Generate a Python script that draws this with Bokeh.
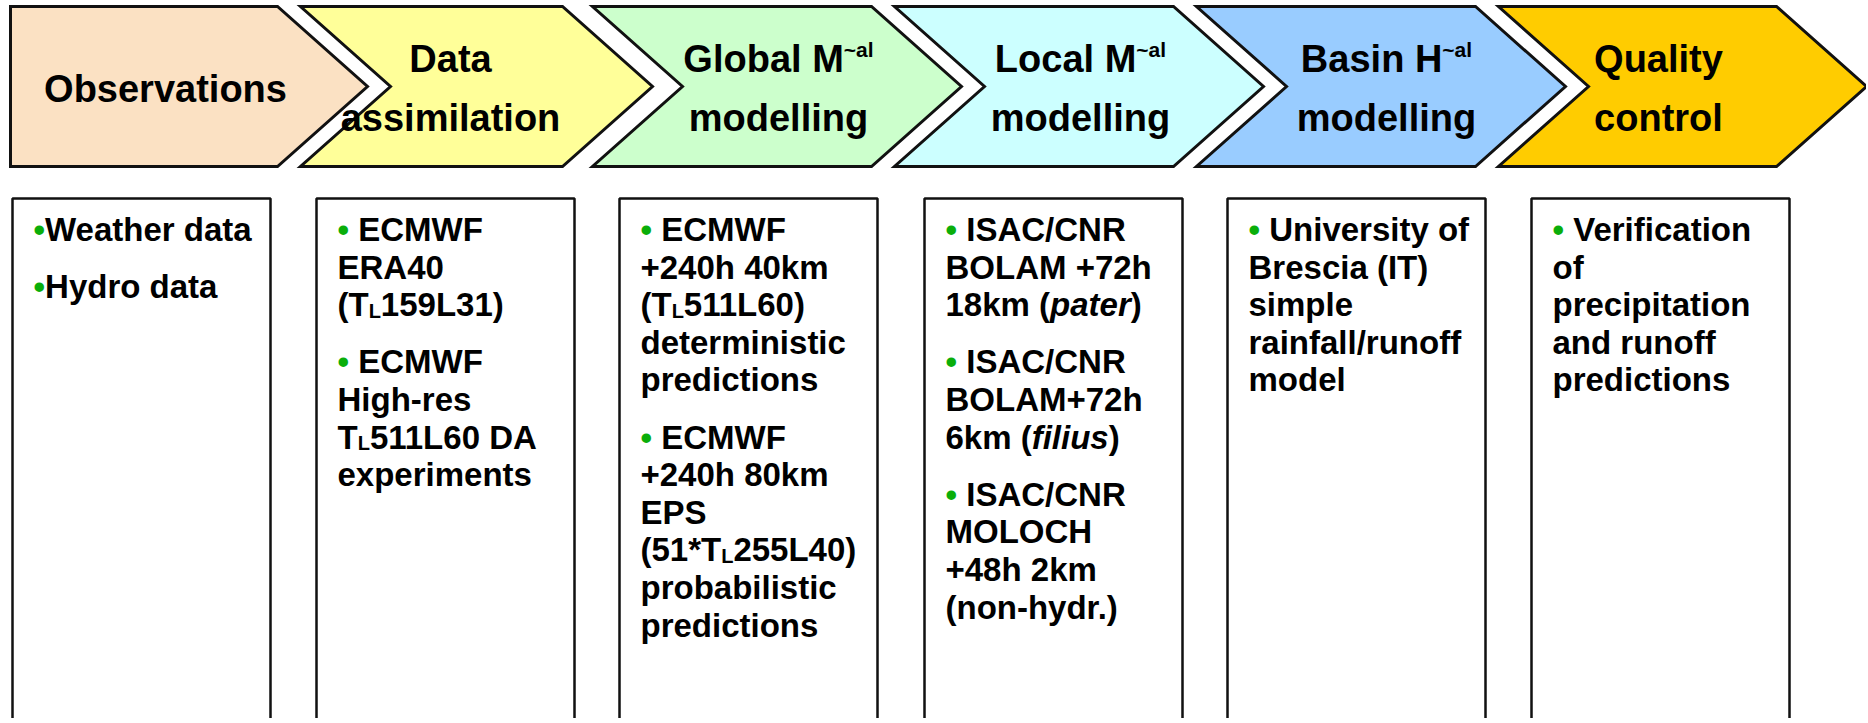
import re
from bokeh.plotting import figure
from bokeh.models import Range1d, ColumnDataSource
from bokeh.core.properties import value
from bokeh.embed import file_html
from bokeh.resources import INLINE

# ---------------- content (data) ----------------
stage_line1 = ["Observations", "Data", "Global M", "Local M", "Basin H", "Quality"]
stage_sup = ["", "", "~al", "~al", "~al", ""]
stage_line2 = ["", "assimilation", "modelling", "modelling", "modelling", "control"]
stage_colors = ["#FBE1C3", "#FFFF99", "#CCFFCC", "#CCFFFF", "#99CCFF", "#FFCC00"]

box_obs = [["•Weather data"], ["•Hydro data"]]
box_da = [["• ECMWF", "ERA40", "(T<sub>L</sub>159L31)"],
          ["• ECMWF", "High-res", "T<sub>L</sub>511L60 DA", "experiments"]]
box_glob = [["• ECMWF", "+240h 40km", "(T<sub>L</sub>511L60)", "deterministic", "predictions"],
            ["• ECMWF", "+240h 80km", "EPS", "(51*T<sub>L</sub>255L40)", "probabilistic", "predictions"]]
box_loc = [["• ISAC/CNR", "BOLAM +72h", "18km (<i>pater</i>)"],
           ["• ISAC/CNR", "BOLAM+72h", "6km (<i>filius</i>)"],
           ["• ISAC/CNR", "MOLOCH", "+48h 2km", "(non-hydr.)"]]
box_basin = [["• University of", "Brescia (IT)", "simple", "rainfall/runoff", "model"]]
box_qc = [["• Verification", "of", "precipitation", "and runoff", "predictions"]]
boxes = [box_obs, box_da, box_glob, box_loc, box_basin, box_qc]

# ---------------- layout (styles / positions) ----------------
head_top, head_bot = 6, 166
head_left = [10, 300, 592, 894, 1196, 1498]
head_tip = [367, 652, 961, 1263, 1565, 1866]
point = 90
head_cx = [165, 450, 778, 1080, 1386, 1658]
box_left = [12, 316, 619, 924, 1227, 1531]
box_w = 258
box_top = 198

FONT = value("Liberation Sans")
hfs, sfs = 38, 21          # header font / superscript
fs, subfs = 33, 20         # box text / subscript
line_pitch, para_gap = 37.6, 19.6
base0 = 229
text_pad = 21
sub_drop = 6
bullet_color = "#0AAE0A"
head_y1, head_y2, head_single = 58, 117, 88

AW = {' ': 278, '(': 333, ')': 333, '*': 389, '+': 584, '-': 333, '.': 278, '/': 278, '~': 584,
      '•': 350, 'A': 722, 'B': 722, 'C': 722, 'D': 722, 'E': 667, 'F': 611, 'G': 778, 'H': 722,
      'I': 278, 'J': 556, 'K': 722, 'L': 611, 'M': 833, 'N': 722, 'O': 778, 'P': 667, 'Q': 778,
      'R': 722, 'S': 667, 'T': 611, 'U': 722, 'V': 667, 'W': 944, 'X': 667, 'Y': 667, 'Z': 611,
      'a': 556, 'b': 611, 'c': 556, 'd': 611, 'e': 556, 'f': 333, 'g': 611, 'h': 611, 'i': 278,
      'j': 278, 'k': 556, 'l': 278, 'm': 889, 'n': 611, 'o': 611, 'p': 611, 'q': 611, 'r': 389,
      's': 556, 't': 333, 'u': 611, 'v': 556, 'w': 778, 'x': 556, 'y': 556, 'z': 500}


def tw(s, size):
    return sum(AW.get(c, 556) for c in s) * size / 1000.0


def parse(line):
    segs = []
    for part in re.split(r"(<sub>.*?</sub>|<i>.*?</i>)", line):
        if not part:
            continue
        if part.startswith("<sub>"):
            segs.append((part[5:-6], "sub"))
        elif part.startswith("<i>"):
            segs.append((part[3:-4], "ital"))
        else:
            segs.append((part, "norm"))
    return segs


W, H = 1866, 718
p = figure(width=W, height=H, x_range=Range1d(0, W), y_range=Range1d(H, 0),
           output_backend="svg", toolbar_location=None, x_axis_type=None, y_axis_type=None,
           min_border=0)
p.grid.visible = False
p.outline_line_color = None
p.background_fill_color = "white"

# header shapes
mid = (head_top + head_bot) / 2
xs, ys = [], []
for k in range(6):
    L, T = head_left[k], head_tip[k]
    if k == 0:
        xs.append([L, T - point, T, T - point, L])
        ys.append([head_top, head_top, mid, head_bot, head_bot])
    else:
        xs.append([L, T - point, T, T - point, L, L + point])
        ys.append([head_top, head_top, mid, head_bot, head_bot, mid])
p.patches(xs, ys, fill_color=stage_colors, line_color="#111111", line_width=3, line_join="miter")

# lower boxes
p.quad(left=box_left, right=[b + box_w for b in box_left], top=[box_top] * 6, bottom=[900] * 6,
       fill_color="white", line_color="#111111", line_width=2.5)

# header texts
h1 = dict(x=[], y=[], t=[])
hs = dict(x=[], y=[], t=[])
h2 = dict(x=[], y=[], t=[])
for k in range(6):
    y1 = head_y1 if stage_line2[k] else head_single
    wtot = tw(stage_line1[k], hfs) + tw(stage_sup[k], sfs)
    x = head_cx[k] - wtot / 2
    h1["x"].append(x); h1["y"].append(y1); h1["t"].append(stage_line1[k])
    if stage_sup[k]:
        hs["x"].append(x + tw(stage_line1[k], hfs)); hs["y"].append(y1 - 9); hs["t"].append(stage_sup[k])
    if stage_line2[k]:
        h2["x"].append(head_cx[k]); h2["y"].append(head_y2); h2["t"].append(stage_line2[k])

common = dict(text_font=FONT, text_font_style="bold", text_baseline="alphabetic", text_color="black")
p.text(x="x", y="y", text="t", source=ColumnDataSource(h1), text_align="left",
       text_font_size=value(f"{hfs}px"), **common)
p.text(x="x", y="y", text="t", source=ColumnDataSource(hs), text_align="left",
       text_font_size=value(f"{sfs}px"), **common)
p.text(x="x", y="y", text="t", source=ColumnDataSource(h2), text_align="center",
       text_font_size=value(f"{hfs}px"), **common)

# box texts
runs = {k: dict(x=[], y=[], t=[]) for k in ("norm", "ital", "sub", "bullet")}


def add(kind, x, y, t):
    runs[kind]["x"].append(x); runs[kind]["y"].append(y); runs[kind]["t"].append(t)


for b, paras in enumerate(boxes):
    x0 = box_left[b] + text_pad
    i = 0
    for pi, para in enumerate(paras):
        for line in para:
            y = base0 + line_pitch * i + para_gap * pi
            x = x0
            if line.startswith("•"):
                add("bullet", x, y, "•")
                x += tw("•", fs)
                line = line[1:]
                if line.startswith(" "):
                    x += tw(" ", fs)
                    line = line[1:]
            for txt, kind in parse(line):
                if kind == "sub":
                    add("sub", x, y + sub_drop, txt)
                    x += tw(txt, subfs)
                else:
                    add(kind, x, y, txt)
                    x += tw(txt, fs)
            i += 1

base = dict(text_font=FONT, text_baseline="alphabetic", text_align="left")
p.text(x="x", y="y", text="t", source=ColumnDataSource(runs["norm"]), text_font_style="bold",
       text_color="black", text_font_size=value(f"{fs}px"), **base)
p.text(x="x", y="y", text="t", source=ColumnDataSource(runs["ital"]), text_font_style="bold italic",
       text_color="black", text_font_size=value(f"{fs}px"), **base)
p.text(x="x", y="y", text="t", source=ColumnDataSource(runs["sub"]), text_font_style="bold",
       text_color="black", text_font_size=value(f"{subfs}px"), **base)
p.text(x="x", y="y", text="t", source=ColumnDataSource(runs["bullet"]), text_font_style="bold",
       text_color=bullet_color, text_font_size=value(f"{fs}px"), **base)

open("out.html", "w").write(file_html(p, INLINE))
